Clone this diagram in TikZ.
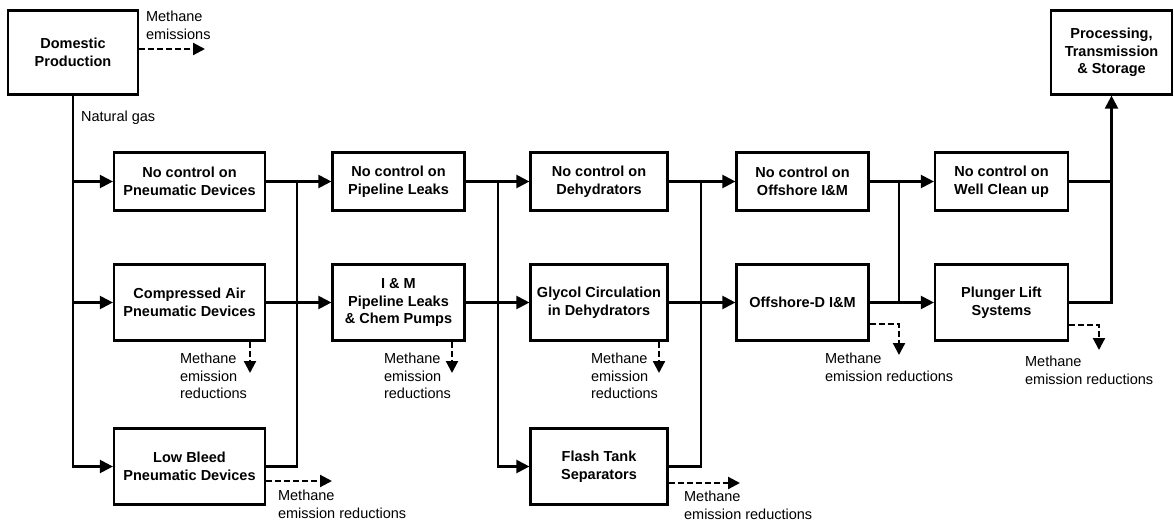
\documentclass[tikz,border=0pt]{standalone}
\usepackage{fontspec}
\setmainfont{Liberation Sans}
\usetikzlibrary{arrows.meta}

\begin{document}
\begin{tikzpicture}[x=1pt, y=-1pt, line width=2.2pt,
    font=\fontsize{14.5}{17.5}\selectfont,
    box/.style={draw, align=center, inner sep=2pt, font=\fontsize{14.5}{17.5}\selectfont\bfseries},
    row1/.style={box, minimum height=58},
    row2/.style={box, minimum height=76},
    flow/.style={-{Triangle[length=13pt,width=13pt]}},
    loss/.style={dash pattern=on 6pt off 3pt, -{Triangle[length=12pt,width=12pt]}},
    lbl/.style={align=left, inner sep=0pt, anchor=north west}]
    \useasboundingbox (0,0) rectangle (1174,522);

    \node[box, minimum width=130, minimum height=84] (dom) at (73,52.5) {Domestic\\Production};
    \node[box, minimum width=121, minimum height=84] (proc) at (1111.5,52.5) {Processing,\\Transmission\\\& Storage};

    % column 1
    \node[row1, minimum width=151] (nc1) at (189.5,181.5) {No control on\\Pneumatic Devices};
    \node[row2, minimum width=151] (ca)  at (189.5,302.5) {Compressed Air\\Pneumatic Devices};
    \node[row2, minimum width=151] (lb)  at (189.5,466.5) {Low Bleed\\Pneumatic Devices};
    % column 2
    \node[row1, minimum width=132] (npl) at (398.5,181.5) {No control on\\Pipeline Leaks};
    \node[row2, minimum width=132] (im)  at (398.5,302.5) {I \& M\\Pipeline Leaks\\\& Chem Pumps};
    % column 3
    \node[row1, minimum width=137] (ndh) at (599,181.5) {No control on\\Dehydrators};
    \node[row2, minimum width=137] (gly) at (599,302.5) {Glycol Circulation\\in Dehydrators};
    \node[row2, minimum width=137] (fts) at (599,466.5) {Flash Tank\\Separators};
    % column 4
    \node[row1, minimum width=132] (noff) at (802.5,181.5) {No control on\\Offshore I\&M};
    \node[row2, minimum width=132] (offd) at (802.5,302.5) {Offshore-D I\&M};
    % column 5
    \node[row1, minimum width=133] (nwc) at (1001.5,181.5) {No control on\\Well Clean up};
    \node[row2, minimum width=133] (plg) at (1001.5,302.5) {Plunger Lift\\Systems};

    \coordinate (j1) at (297,181.5);
    \coordinate (j2) at (498,181.5);
    \coordinate (j3) at (701,181.5);
    \coordinate (j4) at (899,181.5);
    \coordinate (j5) at (1111.5,181.5);

    % gas flow
    \draw[flow] (dom.south) |- (nc1.west);
    \draw[flow] (dom.south) |- (ca.west);
    \draw[flow] (dom.south) |- (lb.west);
    \node[lbl, anchor=west] (gas) at (80,118) {Natural gas};

    \draw[flow] (nc1.east) -- (j1) -- (npl.west);
    \draw (lb.east) -| (j1);
    \draw[flow] (ca.east) -- (im.west);

    \draw[flow] (npl.east) -- (j2) -- (ndh.west);
    \draw[flow] (j2) |- (fts.west);
    \draw[flow] (im.east) -- (gly.west);

    \draw[flow] (ndh.east) -- (j3) -- (noff.west);
    \draw (fts.east) -| (j3);
    \draw[flow] (gly.east) -- (offd.west);

    \draw[flow] (noff.east) -- (j4) -- (nwc.west);
    \draw (j4) -- (j4 |- offd.east);
    \draw[flow] (offd.east) -- (plg.west);

    \draw (nwc.east) -- (j5);
    \draw[flow] (plg.east) -| (proc.south);

    % methane
    \coordinate (e0) at (205,49);
    \coordinate (e1) at (250,373);
    \coordinate (e2) at (452,373);
    \coordinate (e3) at (659,373);
    \coordinate (e4) at (332,481);
    \coordinate (e5) at (740,483);
    \coordinate (e6) at (899,355);
    \coordinate (e7) at (1099,350);

    \draw[loss] ([yshift=3.5pt]dom.east) -- (e0);
    \draw[loss] (e1 |- ca.south) -- (e1);
    \draw[loss] (e2 |- im.south) -- (e2);
    \draw[loss] (e3 |- gly.south) -- (e3);
    \draw[loss] (lb.east |- e4) -- (e4);
    \draw[loss] (fts.east |- e5) -- (e5);
    \draw[loss] ([yshift=-21.5pt]offd.east) -| (e6);
    \draw[loss] ([yshift=-22.5pt]plg.east) -| (e7);

    \node[lbl] (m0) at (145,10) {Methane\\emissions};
    \node[lbl] (m1) at (179,352) {Methane\\emission\\reductions};
    \node[lbl] (m2) at (383,352) {Methane\\emission\\reductions};
    \node[lbl] (m3) at (590,352) {Methane\\emission\\reductions};
    \node[lbl] (m4) at (277,489) {Methane\\emission reductions};
    \node[lbl] (m5) at (683,490) {Methane\\emission reductions};
    \node[lbl] (m6) at (824,352) {Methane\\emission reductions};
    \node[lbl] (m7) at (1024,355) {Methane\\emission reductions};
\end{tikzpicture}
\end{document}
